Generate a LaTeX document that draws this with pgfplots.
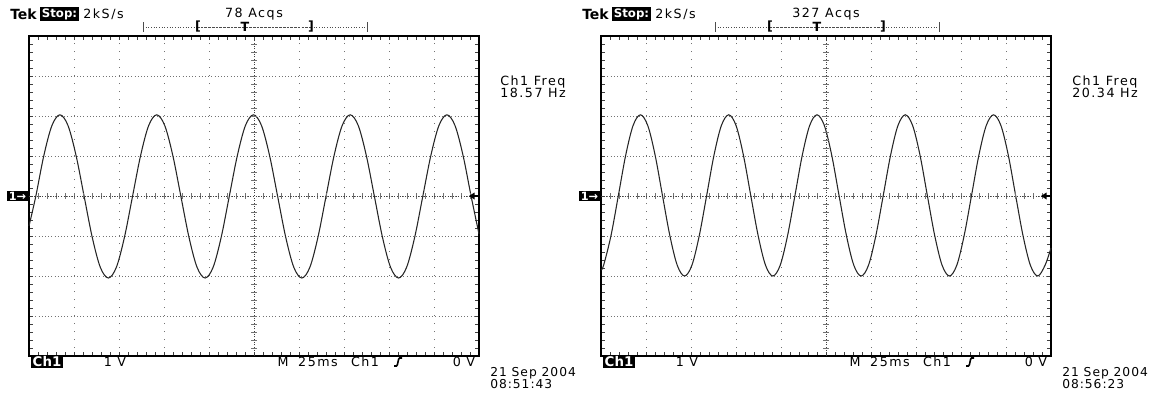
\documentclass[border=0pt]{standalone}
\usepackage{fontspec}
\setmainfont{DejaVu Sans}[LetterSpace=12]
\usepackage{pgfplots}
\pgfplotsset{compat=1.18}

\newcommand{\tf}{\fontsize{9.5pt}{11pt}\selectfont}

\pgfplotsset{tekscope/.style={
  width=337.5pt, height=240pt, scale only axis,
  xmin=-125, xmax=125, ymin=-4, ymax=4,
  xtick={-125,-100,...,125}, ytick={-4,-3,...,4},
  minor x tick num=4, minor y tick num=4,
  xticklabels={}, yticklabels={},
  tick align=inside,
  major tick length=3.2pt, minor tick length=3pt,
  tick style={black!75, line width=0.7pt},
  axis line style={black, line width=1.1pt},
  grid=major,
  major x grid style={black!55, line width=0.75pt, dash pattern=on 0.8pt off 5.2pt},
  major y grid style={black!55, line width=0.75pt, dash pattern=on 0.8pt off 1.6pt},
  clip=false,
},
tekcross/.style={
  width=337.5pt, height=240pt, scale only axis,
  xmin=-125, xmax=125, ymin=-4, ymax=4,
  axis lines=middle,
  axis line style={-, black!75, line width=0.75pt, dash pattern=on 0.8pt off 1.2pt},
  xtick={-120,-115,...,120},
  ytick={-3.8,-3.6,-3.4,-3.2,-3,-2.8,-2.6,-2.4,-2.2,-2,-1.8,-1.6,-1.4,-1.2,-1,-0.8,-0.6,-0.4,-0.2,0.2,0.4,0.6,0.8,1,1.2,1.4,1.6,1.8,2,2.2,2.4,2.6,2.8,3,3.2,3.4,3.6,3.8},
  xticklabels={}, yticklabels={},
  tick align=center, major tick length=4pt,
  tick style={black!55, line width=0.6pt, solid},
  minor tick num=0,
}}

\newcommand{\panel}[5]{%
\begin{scope}[x=0.75pt,y=-0.75pt,shift={({#1*0.75pt},295.5pt)}]
  \node[anchor=west,inner sep=0,font=\fontsize{10.5pt}{12pt}\selectfont\bfseries\addfontfeature{LetterSpace=0}] at (10,14) {Tek};
  \node[fill=black,text=white,inner xsep=1.1pt,inner ysep=1.2pt,font=\fontsize{8.8pt}{10pt}\selectfont\bfseries\addfontfeature{LetterSpace=0}] at (59.5,14) {Stop:};
  \node[anchor=west,inner sep=0,font=\tf] at (83,14) {2kS/s};
  \node[inner sep=0,font=\tf] at (254,14) {#2 Acqs};
  \draw[black!70, line width=0.6pt, dash pattern=on 0.8pt off 1.2pt] (143,27) -- (197,27);
  \draw[black!70, line width=0.6pt, dash pattern=on 2pt off 0.8pt] (197,27) -- (311,27);
  \draw[black!70, line width=0.6pt, dash pattern=on 0.8pt off 1.2pt] (311,27) -- (367,27);
  \draw[black!70, line width=0.6pt] (143,22) -- (143,32);
  \draw[black!70, line width=0.6pt] (367,22) -- (367,32);
  \node[inner sep=0,font=\tf\bfseries] at (198,27) {[};
  \node[inner sep=0,font=\tf\bfseries] at (311,27) {]};
  \node[inner sep=0,font=\tf\bfseries] at (245,27) {T};
  \node[anchor=west,inner sep=0,font=\tf] at (500,82) {Ch1 Freq};
  \node[anchor=west,inner sep=0,font=\tf] at (500,93) {#3 Hz};
  \node[fill=black,text=white,inner xsep=1.2pt,inner ysep=0.8pt,font=\fontsize{8.5pt}{9pt}\selectfont\bfseries\addfontfeature{LetterSpace=0}] at (17.5,196) {1→};
  \node[fill=black,text=white,inner xsep=1.2pt,inner ysep=0.9pt,font=\fontsize{10pt}{11pt}\selectfont\bfseries\addfontfeature{LetterSpace=0}] at (47,362) {Ch1};
  \node[inner sep=0,font=\tf] at (115,362) {1 V};
  \node[inner sep=0,font=\tf] at (283,362) {M};
  \node[inner sep=0,font=\tf] at (318,362) {25ms};
  \node[inner sep=0,font=\tf] at (365,362) {Ch1};
  \draw[black, line width=1.2pt] (394,366) -- (396.5,366) .. controls (398,366) and (398,358) .. (399.5,358) -- (402,358);
  \node[inner sep=0,font=\tf] at (464,362) {0 V};
  \node[anchor=west,inner sep=0,font=\fontsize{9.2pt}{11pt}\selectfont\addfontfeature{LetterSpace=8}] at (490,373) {21 Sep 2004};
  \node[anchor=west,inner sep=0,font=\fontsize{9.2pt}{11pt}\selectfont\addfontfeature{LetterSpace=8}] at (490,384) {#4};
  % trigger level marker at right edge of screen
  \draw[black, line width=1pt] (479,196) -- (472,196);
  \fill[black] (469,196) -- (474.5,192.5) -- (474.5,199.5) -- cycle;
\end{scope}}

\begin{document}
\begin{tikzpicture}
\path[use as bounding box] (0,0) rectangle (864.75pt,295.5pt);

% ---------------- left screen ----------------
\begin{axis}[tekscope, at={(21.75pt,28.5pt)}, anchor=south west]
\addplot[black!85, line width=0.8pt, smooth, tension=0.55] coordinates {
(-125,-0.75) (-121.24,-0.01) (-116.76,1.01) (-112.28,1.76) (-107.80,2.03) (-103.32,1.76)
(-98.84,1.01) (-94.36,-0.01) (-89.88,-1.03) (-85.40,-1.78) (-80.93,-2.05) (-76.45,-1.78)
(-71.97,-1.03) (-67.49,-0.01) (-63.01,1.01) (-58.53,1.76) (-54.05,2.03) (-49.57,1.76)
(-45.09,1.01) (-40.61,-0.01) (-36.13,-1.03) (-31.65,-1.78) (-27.18,-2.05) (-22.70,-1.78)
(-18.22,-1.03) (-13.74,-0.01) (-9.26,1.01) (-4.78,1.76) (-0.30,2.03) (4.18,1.76)
(8.66,1.01) (13.14,-0.01) (17.62,-1.03) (22.10,-1.78) (26.58,-2.05) (31.05,-1.78)
(35.53,-1.03) (40.01,-0.01) (44.49,1.01) (48.97,1.76) (53.45,2.03) (57.93,1.76)
(62.41,1.01) (66.89,-0.01) (71.37,-1.03) (75.85,-1.78) (80.33,-2.05) (84.80,-1.78)
(89.28,-1.03) (93.76,-0.01) (98.24,1.01) (102.72,1.76) (107.20,2.03) (111.68,1.76)
(116.16,1.01) (120.64,-0.01) (125,-0.95)
};
\end{axis}
\begin{axis}[tekcross, at={(21.75pt,28.5pt)}, anchor=south west]
\end{axis}

% ---------------- right screen ----------------
\begin{axis}[tekscope, at={(450.75pt,28.5pt)}, anchor=south west]
\addplot[black!85, line width=0.8pt, smooth, tension=0.55] coordinates {
(-125,-1.85) (-123.54,-1.73) (-119.45,-0.99) (-115.36,0.01) (-111.28,1.02) (-107.19,1.76)
(-103.10,2.03) (-99.01,1.76) (-94.93,1.02) (-90.84,0.01) (-86.75,-0.99) (-82.66,-1.73)
(-78.58,-2.00) (-74.49,-1.73) (-70.40,-0.99) (-66.31,0.01) (-62.23,1.02) (-58.14,1.76)
(-54.05,2.03) (-49.96,1.76) (-45.88,1.02) (-41.79,0.01) (-37.70,-0.99) (-33.61,-1.73)
(-29.53,-2.00) (-25.44,-1.73) (-21.35,-0.99) (-17.26,0.01) (-13.18,1.02) (-9.09,1.76)
(-5.00,2.03) (-0.91,1.76) (3.18,1.02) (7.26,0.01) (11.35,-0.99) (15.44,-1.73)
(19.53,-2.00) (23.61,-1.73) (27.70,-0.99) (31.79,0.01) (35.88,1.02) (39.96,1.76)
(44.05,2.03) (48.14,1.76) (52.23,1.02) (56.31,0.01) (60.40,-0.99) (64.49,-1.73)
(68.58,-2.00) (72.66,-1.73) (76.75,-0.99) (80.84,0.01) (84.93,1.02) (89.01,1.76)
(93.10,2.03) (97.19,1.76) (101.28,1.02) (105.36,0.01) (109.45,-0.99) (113.54,-1.73)
(117.63,-2.00) (121.71,-1.73) (125,-1.30)
};
\end{axis}
\begin{axis}[tekcross, at={(450.75pt,28.5pt)}, anchor=south west]
\end{axis}

\panel{0}{78}{18.57}{08:51:43}{}
\panel{572}{327}{20.34}{08:56:23}{}
\end{tikzpicture}
\end{document}
